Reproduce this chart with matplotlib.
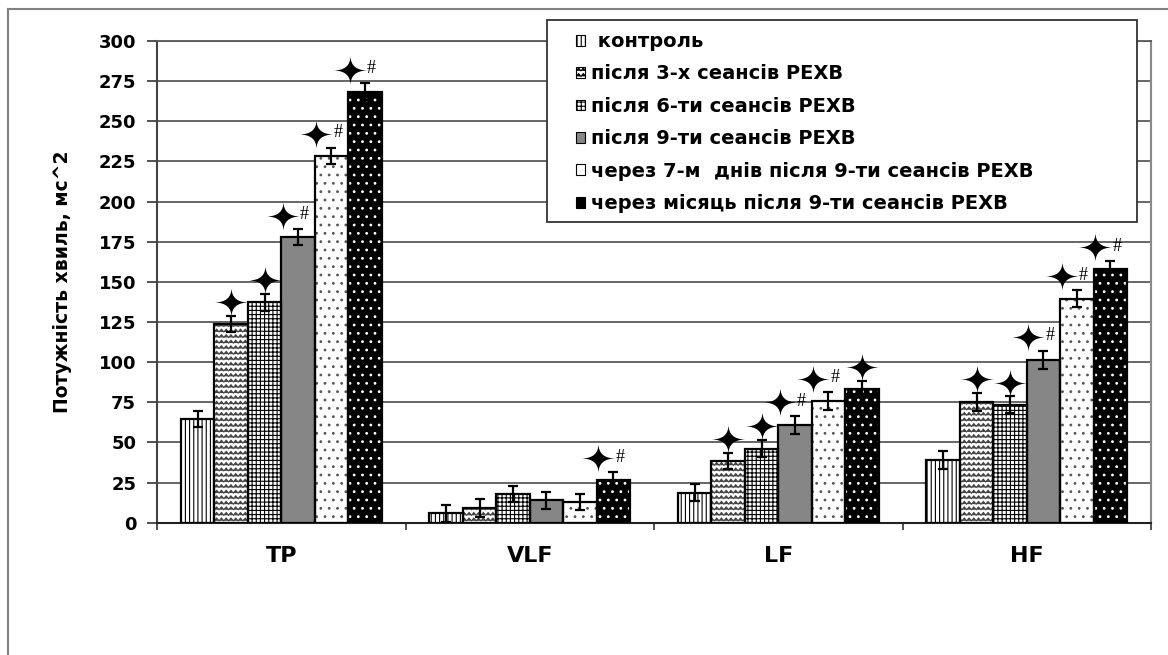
import numpy as np
import matplotlib
matplotlib.use('Agg')
import matplotlib.pyplot as plt
import matplotlib.hatch as mhatch
from matplotlib.path import Path
from matplotlib.patches import Patch, Rectangle
from matplotlib.lines import Line2D

# ---------------- data ----------------
categories = ['TP', 'VLF', 'LF', 'HF']
series_labels = [' контроль',
                 'після 3-х сеансів РЕХВ',
                 'після 6-ти сеансів РЕХВ',
                 'після 9-ти сеансів РЕХВ',
                 'через 7-м  днів після 9-ти сеансів РЕХВ',
                 'через місяць після 9-ти сеансів РЕХВ']

control = [64.5, 5.8, 18.7, 39.3]
after3 = [123.7, 9.3, 38.4, 75.2]
after6 = [137.2, 17.8, 46.1, 73.5]
after9 = [177.8, 13.9, 60.8, 101.4]
week_after = [228.3, 12.8, 75.8, 139.5]
month_after = [268.4, 26.4, 83.2, 157.8]

err_control = [5.2, 5.2, 5.2, 5.6]
err_after3 = [5.2, 5.7, 5.2, 5.5]
err_after6 = [5.4, 5.1, 5.4, 5.1]
err_after9 = [5.0, 5.1, 5.6, 5.6]
err_week = [5.2, 5.0, 5.4, 5.4]
err_month = [5.2, 5.2, 5.2, 5.2]

# significance flags (star = vs control, # = second comparison)
star_control = [False, False, False, False]
star_after3 = [True, False, True, True]
star_after6 = [True, False, True, True]
star_after9 = [True, False, True, True]
star_week = [True, False, True, True]
star_month = [True, True, True, True]

hash_control = [False, False, False, False]
hash_after3 = [False, False, False, False]
hash_after6 = [False, False, False, False]
hash_after9 = [True, False, True, True]
hash_week = [True, False, True, True]
hash_month = [True, True, False, True]

yticks = list(range(0, 301, 25))
ylabel = 'Потужність хвиль, мс^2'

# ---------------- custom zigzag hatch ----------------
class ZigZagHatch(mhatch.HatchPatternBase):
    def __init__(self, hatch, density):
        self.num_rows = int(hatch.count('z') * density)
        self.teeth = 21
        self.num_vertices = self.num_rows * (2 * self.teeth + 1)

    def set_vertices_and_codes(self, vertices, codes):
        if self.num_rows == 0:
            return
        n = 2 * self.teeth + 1
        xs = np.linspace(0, 1, n)
        amp = 0.25 / self.num_rows
        yoff = np.where(np.arange(n) % 2 == 0, -amp, amp)
        for i in range(self.num_rows):
            r = (i + 0.5) / self.num_rows
            vertices[i * n:(i + 1) * n, 0] = xs
            vertices[i * n:(i + 1) * n, 1] = r + yoff
            codes[i * n] = Path.MOVETO
            codes[i * n + 1:(i + 1) * n] = Path.LINETO


mhatch._hatch_types.append(ZigZagHatch)
mhatch._validate_hatch_pattern = lambda hatch: None

plt.rcParams['hatch.linewidth'] = 0.8
plt.rcParams['font.family'] = ['DejaVu Sans']


def star_path():
    c = 0.0
    h = 0.85
    verts = [(1, 0), (c, c), (0, h), (-c, c), (-1, 0), (-c, -c), (0, -h), (c, -c), (1, 0), (1, 0)]
    codes = [Path.MOVETO] + [Path.CURVE3] * 8 + [Path.CLOSEPOLY]
    return Path(verts, codes)


STAR = star_path()

series_vals = [control, after3, after6, after9, week_after, month_after]
series_errs = [err_control, err_after3, err_after6, err_after9, err_week, err_month]
series_star = [star_control, star_after3, star_after6, star_after9, star_week, star_month]
series_hash = [hash_control, hash_after3, hash_after6, hash_after9, hash_week, hash_month]

faces = ['white', 'white', 'white', '#868686', 'white', 'black']
hatches = ['||||', 'zzz', '++++', None, '..', '..']
hcolors = ['black', '#444444', 'black', '#868686', '#555555', 'white']

# ---------------- figure ----------------
W, H = 1168, 655
fig = plt.figure(figsize=(W / 100, H / 100), dpi=100)
ax_l, ax_r, ax_t, ax_b = 157, 1151, 41, 522.7
ax = fig.add_axes([ax_l / W, 1 - ax_b / H, (ax_r - ax_l) / W, (ax_b - ax_t) / H])

x = np.arange(len(categories))
bw = 0.1345
nser = len(series_vals)

for j in range(nser):
    xpos = x + (j - (nser - 1) / 2) * bw
    vals = series_vals[j]
    ax.bar(xpos, vals, bw, color=faces[j], edgecolor=hcolors[j], linewidth=0,
           hatch=hatches[j], zorder=2)
    ax.bar(xpos, vals, bw, fill=False, edgecolor='black', linewidth=1.6, zorder=3)
    ax.errorbar(xpos, vals, yerr=series_errs[j], fmt='none', ecolor='black',
                elinewidth=1.6, capsize=3.8, capthick=1.6, zorder=4)
    for i in range(len(categories)):
        if not series_star[j][i]:
            continue
        ytop = vals[i] + series_errs[j][i] + 8.5
        if series_hash[j][i]:
            ax.plot([xpos[i] - 0.45 * bw], [ytop], marker=STAR, ms=25, mew=0, ls='none',
                    color='black', zorder=5, clip_on=False)
            ax.text(xpos[i] + 0.2 * bw, ytop + 0.8, '#', ha='center', va='center',
                    fontsize=13, family='Liberation Serif', color='black', zorder=5)
        else:
            ax.plot([xpos[i]], [ytop], marker=STAR, ms=25, mew=0, ls='none',
                    color='black', zorder=5, clip_on=False)

ax.set_xlim(-0.5, len(categories) - 0.5)
ax.set_ylim(0, 300)
ax.set_yticks(yticks)
ax.set_yticklabels([str(v) for v in yticks], fontsize=13, fontweight='bold')
ax.set_xticks(x)
ax.set_xticklabels(categories, fontsize=16, fontweight='bold')
ax.set_xticks(np.arange(-0.5, len(categories), 1.0), minor=True)
ax.tick_params(axis='x', which='major', length=0, pad=17)
ax.tick_params(axis='x', which='minor', length=5, width=1.2, color='#333333', direction='out')
ax.tick_params(axis='y', length=7, width=1.2, color='#333333', direction='out', pad=8)

ax.set_axisbelow(True)
ax.yaxis.grid(True, color='#5a5a5a', linewidth=1.3)
ax.spines['left'].set_color('#444444')
ax.spines['left'].set_linewidth(1.5)
ax.spines['bottom'].set_color('#222222')
ax.spines['bottom'].set_linewidth(1.5)
ax.spines['right'].set_color('#888888')
ax.spines['right'].set_linewidth(1.5)
ax.spines['top'].set_color('#5a5a5a')
ax.spines['top'].set_linewidth(1.3)

ax.set_ylabel(ylabel, fontsize=13.5, fontweight='bold')
ax.yaxis.set_label_coords(-0.0855, 0.5)

# outer figure frame (left and top edges)
fig.add_artist(Line2D([8 / W, 8 / W], [0, 1 - 9 / H], transform=fig.transFigure,
                      color='#808080', lw=1.5))
fig.add_artist(Line2D([8 / W, 1], [1 - 9 / H, 1 - 9 / H], transform=fig.transFigure,
                      color='#808080', lw=1.5))

# legend box
lx0, lx1, ly0, ly1 = 547, 1137, 20, 222
fig.add_artist(Rectangle((lx0 / W, 1 - ly1 / H), (lx1 - lx0) / W, (ly1 - ly0) / H,
                         transform=fig.transFigure, facecolor='white',
                         edgecolor='#333333', lw=1.3, zorder=3))
handles = [Patch(facecolor=faces[j], edgecolor='black', linewidth=0.8, hatch=hatches[j])
           for j in range(nser)]
handles[3] = Patch(facecolor=faces[3], edgecolor='black', linewidth=0.8)
handles[4] = Patch(facecolor='white', edgecolor='black', linewidth=0.8)
handles[5] = Patch(facecolor='black', edgecolor='black', linewidth=0.8)
fig.legend(handles, series_labels, loc='upper left',
           bbox_to_anchor=(576 / W, 1 - 32 / H), frameon=False, borderpad=0,
           borderaxespad=0, handlelength=0.48, handleheight=0.48, handletextpad=0.27,
           labelspacing=0.69, prop={'weight': 'bold', 'size': 14})

fig.savefig('out.png', dpi=100)
